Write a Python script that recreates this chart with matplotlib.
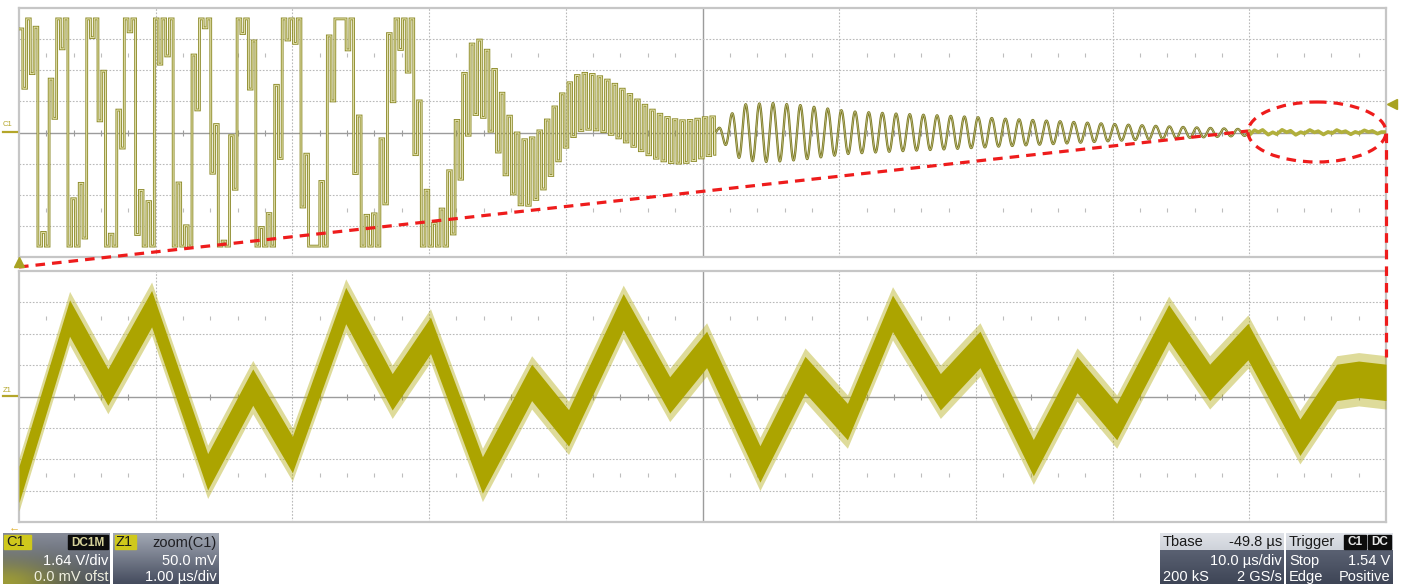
import numpy as np
import matplotlib
matplotlib.use("Agg")
import matplotlib.pyplot as plt
from matplotlib.patches import Ellipse, Rectangle

# ---------------- data (scope divisions) ----------------
# C1 (top trace): slow component extremes
c1_slow_x = [-0.066, 0.059, 0.168, 0.285, 0.410, 0.534, 0.666, 0.790, 0.907, 1.046,
             1.192, 1.339, 1.485, 1.639, 1.778, 1.982, 2.143, 2.348, 2.553, 2.787,
             3.021, 3.336, 3.687, 4.126, 4.835, 5.091]
c1_slow_v = [-6.0, 6.0, -6.0, 6.0, -6.0, 6.0, -6.0, 6.0, -6.0, 6.0,
             -6.0, 6.0, -6.0, 6.0, -6.0, 6.0, -6.0, 6.0, -5.0, 4.5,
             -4.5, 1.8, -1.3, 1.0, -0.3, -0.1]
# C1: half swing of the fast switching component
c1_fast_x = [0.0, 2.056, 3.007, 3.336, 4.126, 5.091]
c1_fast_a = [2.8, 2.4, 1.6, 1.2, 0.9, 0.6]
c1_fast_period = 0.055
# C1: ringing after the switching stops
c1_ring_x = [5.091, 5.187, 5.289, 5.494, 5.713, 6.079, 6.445, 6.884, 7.176, 7.615, 8.054, 8.493, 9.0]
c1_ring_a = [0.0, 0.5, 0.9, 0.95, 0.88, 0.68, 0.6, 0.52, 0.45, 0.36, 0.26, 0.18, 0.1]
c1_ring_period = 0.1
c1_clip = 3.65

# Z1 = zoom(C1), 50 mV/div, 1 us/div : band centre
z1_x = [0.00, 0.37, 0.65, 0.97, 1.38, 1.71, 2.00, 2.39, 2.73, 3.01, 3.39, 3.75, 4.02, 4.42,
        4.76, 5.03, 5.42, 5.75, 6.06, 6.39, 6.74, 7.03, 7.42, 7.74, 8.03, 8.41, 8.71, 8.99,
        9.37, 9.64, 9.80, 10.0]
z1_v = [-2.8, 2.5, 0.3, 2.8, -2.4, 0.3, -1.85, 2.9, 0.15, 1.95, -2.5, 0.45, -1.0, 2.7,
        0.05, 1.5, -2.15, 0.7, -0.8, 2.65, 0.15, 1.5, -1.95, 0.7, -0.8, 2.35, 0.45, 1.75,
        -1.3, 0.45, 0.55, 0.45]
zoom_start_div = 9.0
zoom_scale = 50.0 / 1640.0

ch_info = [("C1", "DC1M", "1.64 V/div", "0.0 mV ofst"),
           ("Z1", "zoom(C1)", "50.0 mV", "1.00 µs/div")]
tbase_info = ("Tbase", "-49.8 µs", "10.0 µs/div", "200 kS", "2 GS/s")
trig_info = ("Trigger", "C1", "DC", "Stop", "1.54 V", "Edge", "Positive")

# ---------------- figure ----------------
W, H = 1402, 584
plt.rcParams['font.family'] = ['Liberation Sans', 'DejaVu Sans']
fig = plt.figure(figsize=(W / 100, H / 100), dpi=100)
fig.patch.set_facecolor('white')


def px_axes(x0, y0, x1, y1):
    return fig.add_axes([x0 / W, 1 - y1 / H, (x1 - x0) / W, (y1 - y0) / H])


def scope_grid(ax):
    ax.set_xlim(0, 10)
    ax.set_ylim(-4, 4)
    ax.set_xticks([])
    ax.set_yticks([])
    ax.set_facecolor('white')
    for s in ax.spines.values():
        s.set_color('#c6c6c6')
        s.set_linewidth(1.6)
    for i in range(1, 10):
        if i == 5:
            ax.axvline(i, color='#9c9c9c', lw=1.0, zorder=1)
        else:
            ax.axvline(i, color='#b9b9b9', lw=0.8, ls=(0, (1.5, 1.5)), zorder=1)
    for j in range(-3, 4):
        if j == 0:
            ax.axhline(0, color='#9c9c9c', lw=1.0, zorder=1)
        else:
            ax.axhline(j, color='#b9b9b9', lw=0.8, ls=(0, (1.5, 1.5)), zorder=1)
    minor = np.arange(0.2, 10, 0.2)
    minor = minor[np.abs(minor - np.round(minor)) > 1e-6]
    ax.plot(minor, np.zeros_like(minor), ls='none', marker='|', ms=5, mew=0.8,
            color='#9c9c9c', zorder=1)
    for yy in (2.5, -2.5):
        ax.plot(minor, np.full_like(minor, yy), ls='none', marker='|', ms=2.2, mew=0.8,
                color='#bdbdbd', zorder=1)


ax_top = px_axes(19, 8, 1386, 257)
ax_bot = px_axes(19, 271, 1386, 522)
scope_grid(ax_top)
scope_grid(ax_bot)

# ---------------- C1 trace ----------------
xt = np.linspace(0, 10, 60001)
half = c1_fast_period / 2
xh = np.floor(xt / half) * half          # value held for each switching half-period
slow = np.zeros_like(xt)
for i in range(len(c1_slow_x) - 1):
    x0, x1 = c1_slow_x[i], c1_slow_x[i + 1]
    m = (xh >= x0) & (xh <= x1)
    t = (xh[m] - x0) / (x1 - x0)
    slow[m] = c1_slow_v[i] + (c1_slow_v[i + 1] - c1_slow_v[i]) * (1 - np.cos(np.pi * t)) / 2
fa = np.interp(xh, c1_fast_x, c1_fast_a)
sq = np.where(np.sin(2 * np.pi * (xh + half / 2) / c1_fast_period) >= 0, 1.0, -1.0)
yt = np.clip(slow + fa * sq, -c1_clip, c1_clip)

m_ring = xt >= c1_ring_x[0]
yt[m_ring] = np.interp(xt[m_ring], c1_ring_x, c1_ring_a) * \
    np.sin(2 * np.pi * (xt[m_ring] - c1_ring_x[0]) / c1_ring_period)
m_zoom = xt >= zoom_start_div
yt[m_zoom] = np.interp((xt[m_zoom] - zoom_start_div) * 10, z1_x, z1_v) * zoom_scale

m1 = xt <= c1_ring_x[0]
ax_top.plot(xt[m1], yt[m1], color='#8f8d2f', lw=2.0, solid_joinstyle='miter', zorder=3)
ax_top.plot(xt[m1], yt[m1], color='#e7e5b0', lw=0.7, zorder=4)
m2 = (xt >= c1_ring_x[0]) & (xt <= zoom_start_div)
ax_top.plot(xt[m2], yt[m2], color='#7c7a25', lw=1.7, zorder=3)
ax_top.plot(xt[m2], yt[m2], color='#c9c78d', lw=0.45, zorder=4)
m3 = xt >= zoom_start_div - 0.001
ax_top.plot(xt[m3], yt[m3], color='#b1af3c', lw=2.6, zorder=3)

# ---------------- Z1 trace ----------------
zx = np.array(z1_x)
zv = np.array(z1_v)
ax_bot.fill_between(zx, zv - 0.85, zv + 0.85, color='#b2aa10', alpha=0.42, lw=0, zorder=3)
ax_bot.fill_between(zx, zv - 0.58, zv + 0.58, color='#aca400', lw=0, zorder=4)

# ---------------- overlay (annotations, info boxes) ----------------
ov = fig.add_axes([0, 0, 1, 1], zorder=10)
ov.set_xlim(0, W)
ov.set_ylim(H, 0)
ov.axis('off')
ov.patch.set_alpha(0)

red = '#ee1c1c'
ov.plot([19, 1248], [267, 131], color=red, lw=2.3, ls=(0, (3, 2.2)))
ov.add_patch(Ellipse((1317, 132), 138, 60, fill=False, edgecolor=red, lw=2.3, ls=(0, (3, 2.2))))
ov.plot([1386, 1386], [133, 357], color=red, lw=2.3, ls=(0, (3, 2.2)))

mk = '#a8a222'
ov.plot([19], [262], marker='^', ms=7, color=mk, ls='none')
ov.plot([1392], [104], marker='<', ms=7, color=mk, ls='none')
ov.text(3, 125, "C1", fontsize=5.5, color='#b4a62a', va='center', ha='left')
ov.plot([3, 17], [132, 132], color='#b4a62a', lw=1.6)
ov.text(3, 390, "Z1", fontsize=5.5, color='#b4a62a', va='center', ha='left')
ov.plot([3, 17], [396, 396], color='#b4a62a', lw=1.6)
ov.text(14, 527, "←", fontsize=8, color='#e0b030', ha='center', va='center')


def grad(c_top, c_bot, n=64):
    a = np.array(matplotlib.colors.to_rgb(c_top))
    b = np.array(matplotlib.colors.to_rgb(c_bot))
    t = np.linspace(0, 1, n)[:, None]
    g = a * (1 - t) + b * t
    return np.repeat(g[:, None, :], 8, axis=1)


def put_img(img, x0, x1, y0, y1):
    ov.imshow(img, extent=(x0, x1, y1, y0), origin='upper', aspect='auto',
              interpolation='bilinear', zorder=1)


FS = 10.5
R2, R3 = 561, 577
# C1 box
ny, nx = 64, 64
yy, xx = np.mgrid[0:1:ny * 1j, 0:1:nx * 1j]
base = np.ones((ny, nx, 3)) * np.array(matplotlib.colors.to_rgb('#868b98'))
tt = yy[..., None]
base = base * (1 - tt) + np.array(matplotlib.colors.to_rgb('#454b5c')) * tt
glow = np.exp(-((xx / 0.55) ** 2 + ((1 - yy) / 0.45) ** 2))[..., None]
base = base * (1 - 0.75 * glow) + np.array(matplotlib.colors.to_rgb('#b8b42a')) * 0.75 * glow
put_img(base, 3, 110, 533, 584)
ov.add_patch(Rectangle((4, 535), 27, 14, color='#cfc81c', zorder=2))
ov.text(6, 542.5, ch_info[0][0], fontsize=FS, color='#1a1a1a', va='center', zorder=3)
ov.add_patch(Rectangle((68, 535), 40, 14, color='#0c0c0c', zorder=2))
ov.text(88, 542.5, ch_info[0][1], fontsize=8.5, color='#d6d29a', va='center', ha='center',
        zorder=3, fontweight='bold')
ov.text(108, R2, ch_info[0][2], fontsize=FS, color='white', va='center', ha='right', zorder=3)
ov.text(108, R3, ch_info[0][3], fontsize=FS, color='#f0f0e0', va='center', ha='right', zorder=3)

# Z1 box
put_img(grad('#a2a8b4', '#454c5e'), 113, 219, 533, 584)
ov.add_patch(Rectangle((115, 535), 21, 14, color='#cfc81c', zorder=2))
ov.text(116, 542.5, ch_info[1][0], fontsize=FS, color='#1a1a1a', va='center', zorder=3)
ov.text(217, 542.5, ch_info[1][1], fontsize=FS, color='#1e1e22', va='center', ha='right', zorder=3)
ov.text(217, R2, ch_info[1][2], fontsize=FS, color='white', va='center', ha='right', zorder=3)
ov.text(217, R3, ch_info[1][3], fontsize=FS, color='white', va='center', ha='right', zorder=3)

# Tbase box
put_img(grad('#dfe2e8', '#cfd3da', 8), 1160, 1284, 533, 550)
put_img(grad('#5a6172', '#3e4556'), 1160, 1284, 550, 584)
ov.text(1163, 542, tbase_info[0], fontsize=FS, color='#1a1a1a', va='center', ha='left', zorder=3)
ov.text(1282, 542, tbase_info[1], fontsize=FS, color='#1a1a1a', va='center', ha='right', zorder=3)
ov.text(1282, R2, tbase_info[2], fontsize=FS, color='white', va='center', ha='right', zorder=3)
ov.text(1163, R3, tbase_info[3], fontsize=FS, color='white', va='center', ha='left', zorder=3)
ov.text(1282, R3, tbase_info[4], fontsize=FS, color='white', va='center', ha='right', zorder=3)

# Trigger box
put_img(grad('#dfe2e8', '#cfd3da', 8), 1286, 1393, 533, 550)
put_img(grad('#5a6172', '#3e4556'), 1286, 1393, 550, 584)
ov.text(1289, 542, trig_info[0], fontsize=FS, color='#1a1a1a', va='center', ha='left', zorder=3)
ov.add_patch(Rectangle((1344, 535), 22, 14, color='#0c0c0c', zorder=2))
ov.add_patch(Rectangle((1368, 535), 23, 14, color='#0c0c0c', zorder=2))
ov.text(1355, 542, trig_info[1], fontsize=8.5, color='#e8e8e8', va='center', ha='center',
        zorder=3, fontweight='bold')
ov.text(1379.5, 542, trig_info[2], fontsize=8.5, color='#e8e8e8', va='center', ha='center',
        zorder=3, fontweight='bold')
ov.text(1289, R2, trig_info[3], fontsize=FS, color='white', va='center', ha='left', zorder=3)
ov.text(1390, R2, trig_info[4], fontsize=FS, color='white', va='center', ha='right', zorder=3)
ov.text(1289, R3, trig_info[5], fontsize=FS, color='white', va='center', ha='left', zorder=3)
ov.text(1390, R3, trig_info[6], fontsize=FS, color='white', va='center', ha='right', zorder=3)

ov.set_xlim(0, W)
ov.set_ylim(H, 0)

fig.savefig("out.png", dpi=100, facecolor='white')
